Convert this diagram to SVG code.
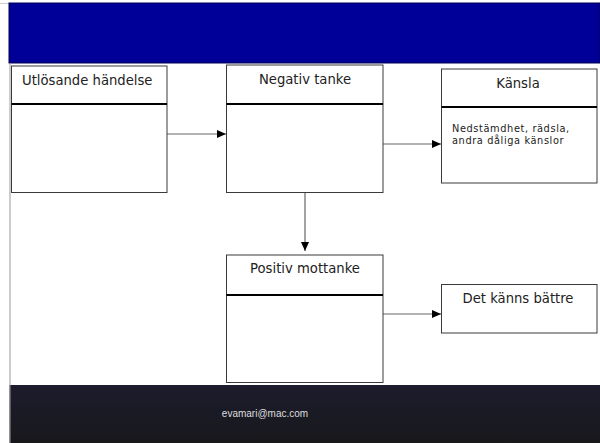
<svg xmlns="http://www.w3.org/2000/svg" width="600" height="443" viewBox="0 0 600 443">
<style>
.box{fill:#fff;stroke:#3a3a3a;stroke-width:1}
.div{stroke:#000;stroke-width:2.2}
.t{font-family:"DejaVu Sans",Verdana,sans-serif;font-size:13.2px;fill:#222}
.s{font-family:"DejaVu Sans",Verdana,sans-serif;font-size:9.8px;letter-spacing:0.6px;fill:#222}
.c{stroke:#666;stroke-width:1.2;fill:none;marker-end:url(#ah)}
</style>
<defs>
<marker id="ah" markerWidth="10" markerHeight="10" refX="9" refY="5" orient="auto" markerUnits="userSpaceOnUse">
<path d="M0,1 L9,5 L0,9 Z" fill="#000"/>
</marker>
<linearGradient id="fg" x1="0" y1="0" x2="0" y2="1">
<stop offset="0" stop-color="#1c1c2e"/>
<stop offset="1" stop-color="#18181b"/>
</linearGradient>
</defs>
<rect width="600" height="443" fill="#fff"/>
<line x1="0" y1="3.5" x2="80" y2="3.5" stroke="#ccc" stroke-width="1"/>
<rect x="9" y="3" width="591" height="60" fill="#000099" stroke="#000050" stroke-width="1"/>
<rect x="9.5" y="385" width="590.5" height="58" fill="url(#fg)"/>
<line x1="10" y1="63" x2="10" y2="443" stroke="#999" stroke-width="1"/>
<text x="265" y="417" text-anchor="middle" font-family="'Liberation Sans',Arial,sans-serif" font-size="10" fill="#ddd">evamari@mac.com</text>
<g id="connectors">
<line class="c" x1="167" y1="134" x2="226" y2="134"/>
<line class="c" x1="383" y1="144" x2="441" y2="144"/>
<line class="c" x1="305" y1="193" x2="305" y2="251"/>
<line class="c" x1="383" y1="314" x2="441" y2="314"/>
</g>
<g id="n1">
<rect class="box" x="11.5" y="66" width="155.5" height="126.5"/>
<line class="div" x1="11.5" y1="104" x2="167" y2="104"/>
<text class="t" x="22" y="85">Utlösande händelse</text>
</g>
<g id="n2">
<rect class="box" x="226.5" y="65" width="156.5" height="127.5"/>
<line class="div" x1="226.5" y1="104" x2="383" y2="104"/>
<text class="t" x="305" y="84" text-anchor="middle">Negativ tanke</text>
</g>
<g id="n3">
<rect class="box" x="441.5" y="69" width="155.5" height="114"/>
<line class="div" x1="441.5" y1="107" x2="597" y2="107"/>
<text class="t" x="518" y="88" text-anchor="middle">Känsla</text>
<text class="s" x="452" y="132">Nedstämdhet, rädsla,</text>
<text class="s" x="452" y="144">andra dåliga känslor</text>
</g>
<g id="n4">
<rect class="box" x="226.5" y="255" width="156.5" height="127.5"/>
<line class="div" x1="226.5" y1="295" x2="383" y2="295"/>
<text class="t" x="305" y="273" text-anchor="middle">Positiv mottanke</text>
</g>
<g id="n5">
<rect class="box" x="441.5" y="284.5" width="155.5" height="48.5"/>
<text class="t" x="518" y="303" text-anchor="middle">Det känns bättre</text>
</g>
</svg>
